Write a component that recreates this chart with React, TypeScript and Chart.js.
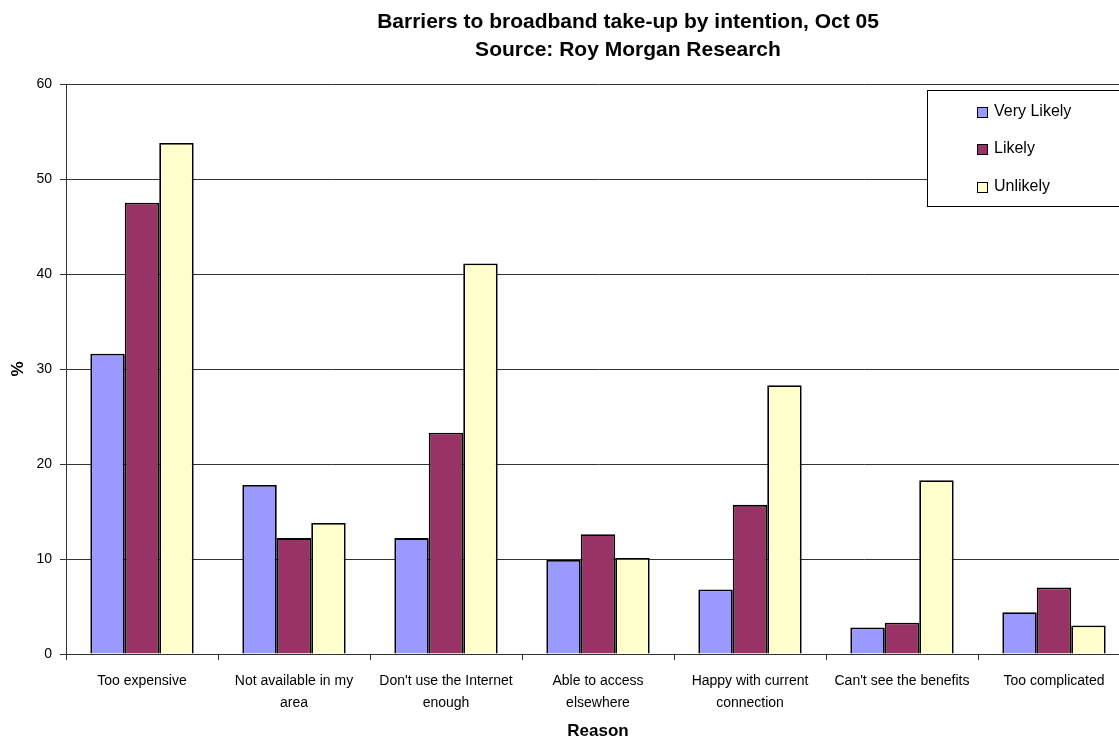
import React, { useEffect, useRef } from "react";
import { Chart, registerables } from "chart.js";

Chart.register(...registerables);

const categories: (string | string[])[] = [
  "Too expensive",
  ["Not available in my", "area"],
  ["Don't use the Internet", "enough"],
  ["Able to access", "elsewhere"],
  ["Happy with current", "connection"],
  "Can't see the benefits",
  "Too complicated",
];
const veryLikely = [31.6, 17.8, 12.2, 9.9, 6.8, 2.8, 4.4];
const likely = [47.5, 12.2, 23.3, 12.6, 15.7, 3.3, 7.0];
const unlikely = [53.8, 13.8, 41.1, 10.1, 28.3, 18.3, 3.0];
const seriesNames = ["Very Likely", "Likely", "Unlikely"];
const seriesColors = ["#9999FF", "#993366", "#FFFFCC"];
const titleLines = ["Barriers to broadband take-up by intention, Oct 05", "Source: Roy Morgan Research"];
const xTitle = "Reason";
const yTitle = "%";

const FONT = "'Liberation Sans', Arial, sans-serif";

const overlayPlugin = {
  id: "overlay",
  afterDraw(chart: any) {
    const ctx = chart.ctx;
    ctx.save();
    ctx.fillStyle = "#000";
    ctx.font = `bold 21px ${FONT}`;
    ctx.textAlign = "center";
    ctx.textBaseline = "middle";
    ctx.fillText(titleLines[0], 628, 22);
    ctx.fillText(titleLines[1], 628, 50);

    const bx = 927.5, by = 90.5, bw = 220, bh = 116;
    ctx.fillStyle = "#fff";
    ctx.fillRect(bx, by, bw, bh);
    ctx.strokeStyle = "#000";
    ctx.lineWidth = 1;
    ctx.strokeRect(bx, by, bw, bh);
    const ds = chart.data.datasets;
    ctx.font = `16px ${FONT}`;
    ctx.textAlign = "left";
    ctx.textBaseline = "middle";
    for (let i = 0; i < ds.length; i++) {
      const cy = 111.5 + i * 37.5;
      ctx.fillStyle = ds[i].backgroundColor;
      ctx.fillRect(977.5, Math.round(cy - 5) + 0.5, 10, 10);
      ctx.strokeStyle = "#000";
      ctx.strokeRect(977.5, Math.round(cy - 5) + 0.5, 10, 10);
      ctx.fillStyle = "#000";
      ctx.fillText(ds[i].label, 994, cy);
    }
    ctx.restore();
  },
};

export default function App() {
  const ref = useRef<HTMLCanvasElement | null>(null);
  useEffect(() => {
    if (!ref.current) return;
    const mk = (i: number, data: number[]) => ({
      label: seriesNames[i],
      data,
      backgroundColor: seriesColors[i],
      borderColor: "#000",
      borderWidth: 1.8,
      categoryPercentage: 0.68,
      barPercentage: 1.0,
    });
    const chart = new Chart(ref.current, {
      type: "bar",
      data: {
        labels: categories,
        datasets: [mk(0, veryLikely), mk(1, likely), mk(2, unlikely)],
      },
      options: {
        responsive: false,
        animation: false,
        layout: { padding: { top: 84, right: 0, left: 0, bottom: 0 } },
        plugins: {
          legend: { display: false },
          title: { display: false },
          tooltip: { enabled: false },
        },
        scales: {
          x: {
            grid: {
              display: true,
              offset: true,
              drawOnChartArea: false,
              drawTicks: true,
              tickLength: 6,
              color: "#333",
            },
            border: { display: true, color: "#333", width: 1 },
            ticks: {
              color: "#000",
              font: { family: FONT, size: 14, lineHeight: 22 / 14 },
              padding: 10,
              maxRotation: 0,
              autoSkip: false,
            },
            title: {
              display: true,
              text: xTitle,
              color: "#000",
              font: { family: FONT, size: 17, weight: "bold" },
              padding: { top: 0, bottom: 0 },
            },
            afterFit: (s: any) => {
              s.height = 88;
            },
          },
          y: {
            min: 0,
            max: 60,
            ticks: {
              stepSize: 10,
              color: "#000",
              font: { family: FONT, size: 14 },
              padding: 8,
            },
            grid: {
              color: "#333",
              tickLength: 6,
              drawTicks: true,
            },
            border: { display: true, color: "#333", width: 1 },
            title: {
              display: true,
              text: yTitle,
              color: "#000",
              font: { family: FONT, size: 17, weight: "bold" },
              padding: { top: 8, bottom: 0 },
            },
            afterFit: (s: any) => {
              s.width = 66;
            },
          },
        },
      },
      plugins: [overlayPlugin],
    } as any);
    return () => chart.destroy();
  }, []);
  return (
    <div style={{ position: "absolute", left: 0, top: 0, width: 1119, height: 742, overflow: "hidden", background: "#fff" }}>
      <canvas ref={ref} width={1130} height={742} style={{ display: "block" }} />
    </div>
  );
}
